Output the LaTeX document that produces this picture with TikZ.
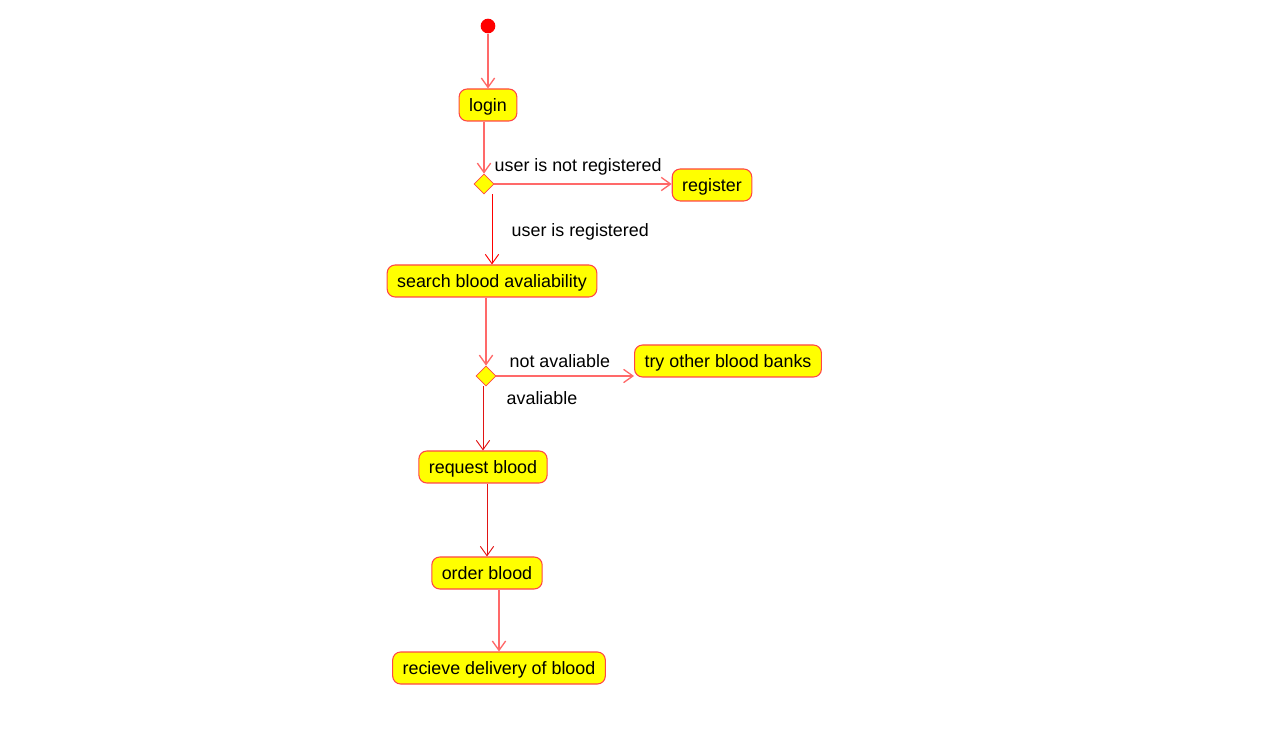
\documentclass[tikz,border=0pt]{standalone}
\usepackage{fontspec}
\setmainfont{Liberation Sans}
\usepackage{xcolor}
\usetikzlibrary{arrows.meta, positioning, shapes.geometric}
\definecolor{boxred}{RGB}{255,70,70}
\definecolor{flowred}{RGB}{255,105,105}
\definecolor{deepred}{RGB}{225,20,20}
\definecolor{boxyellow}{RGB}{255,255,0}

\begin{document}
\begin{tikzpicture}[x=0.75pt, y=-0.75pt,
  activity/.style={draw=boxred, fill=boxyellow, rounded corners=6pt, line width=0.8pt,
    minimum height=24pt, inner xsep=7.5pt, text height=11.5pt, text depth=2pt,
    font=\fontsize{13.4}{15}\selectfont},
  decision/.style={draw=boxred, fill=boxyellow, diamond, inner sep=0pt, minimum size=15pt, line width=0.6pt},
  guard/.style={anchor=west, font=\fontsize{13.4}{15}\selectfont},
  flow/.style={flowred, line width=1pt, -{Straight Barb[length=7pt, width=10pt]}},
  thinflow/.style={deepred, line width=0.7pt, -{Straight Barb[length=7pt, width=10pt]}}]
\useasboundingbox (0,0) rectangle (1261,741);

% Start
\node[circle, fill=red, minimum size=11pt, inner sep=0pt] (start) at (488,26) {};

% Activities
\node[activity] (login) at (488,105) {login};
\node[decision] (dec1) at (484,184) {};
\node[activity] (register) at (712,185) {register};
\node[activity] (search) at (492,281) {search blood avaliability};
\node[decision] (dec2) at (486,376) {};
\node[activity] (tryother) at (728,361) {try other blood banks};
\node[activity] (request) at (483,467) {request blood};
\node[activity] (order) at (487,573) {order blood};
\node[activity] (receive) at (499,668) {recieve delivery of blood};

% Guards
\node[guard] (notreg) at (490,167) {user is not registered};
\node[guard] (isreg) at (507,232) {user is registered};
\node[guard] (notav) at (505,361) {not avaliable};
\node[guard] (av) at (502,398) {avaliable};

% Flows
\draw[flow] (start) -- (login);
\draw[flow] ([xshift=-3pt]login.south) -- (dec1.north);
\draw[flow] (dec1.east) -- (dec1.east -| register.west);
\draw[thinflow, red] (search.north |- dec1.south) -- (search.north);
\draw[flow] (search.south -| dec2.north) -- (dec2.north);
\draw[flow] (dec2.east) -- (dec2.east -| tryother.west);
\draw[thinflow] (request.north |- dec2.south) -- (request.north);
\draw[thinflow] (order.north |- request.south) -- (order.north);
\draw[flow] (receive.north |- order.south) -- (receive.north);

\end{tikzpicture}
\end{document}
